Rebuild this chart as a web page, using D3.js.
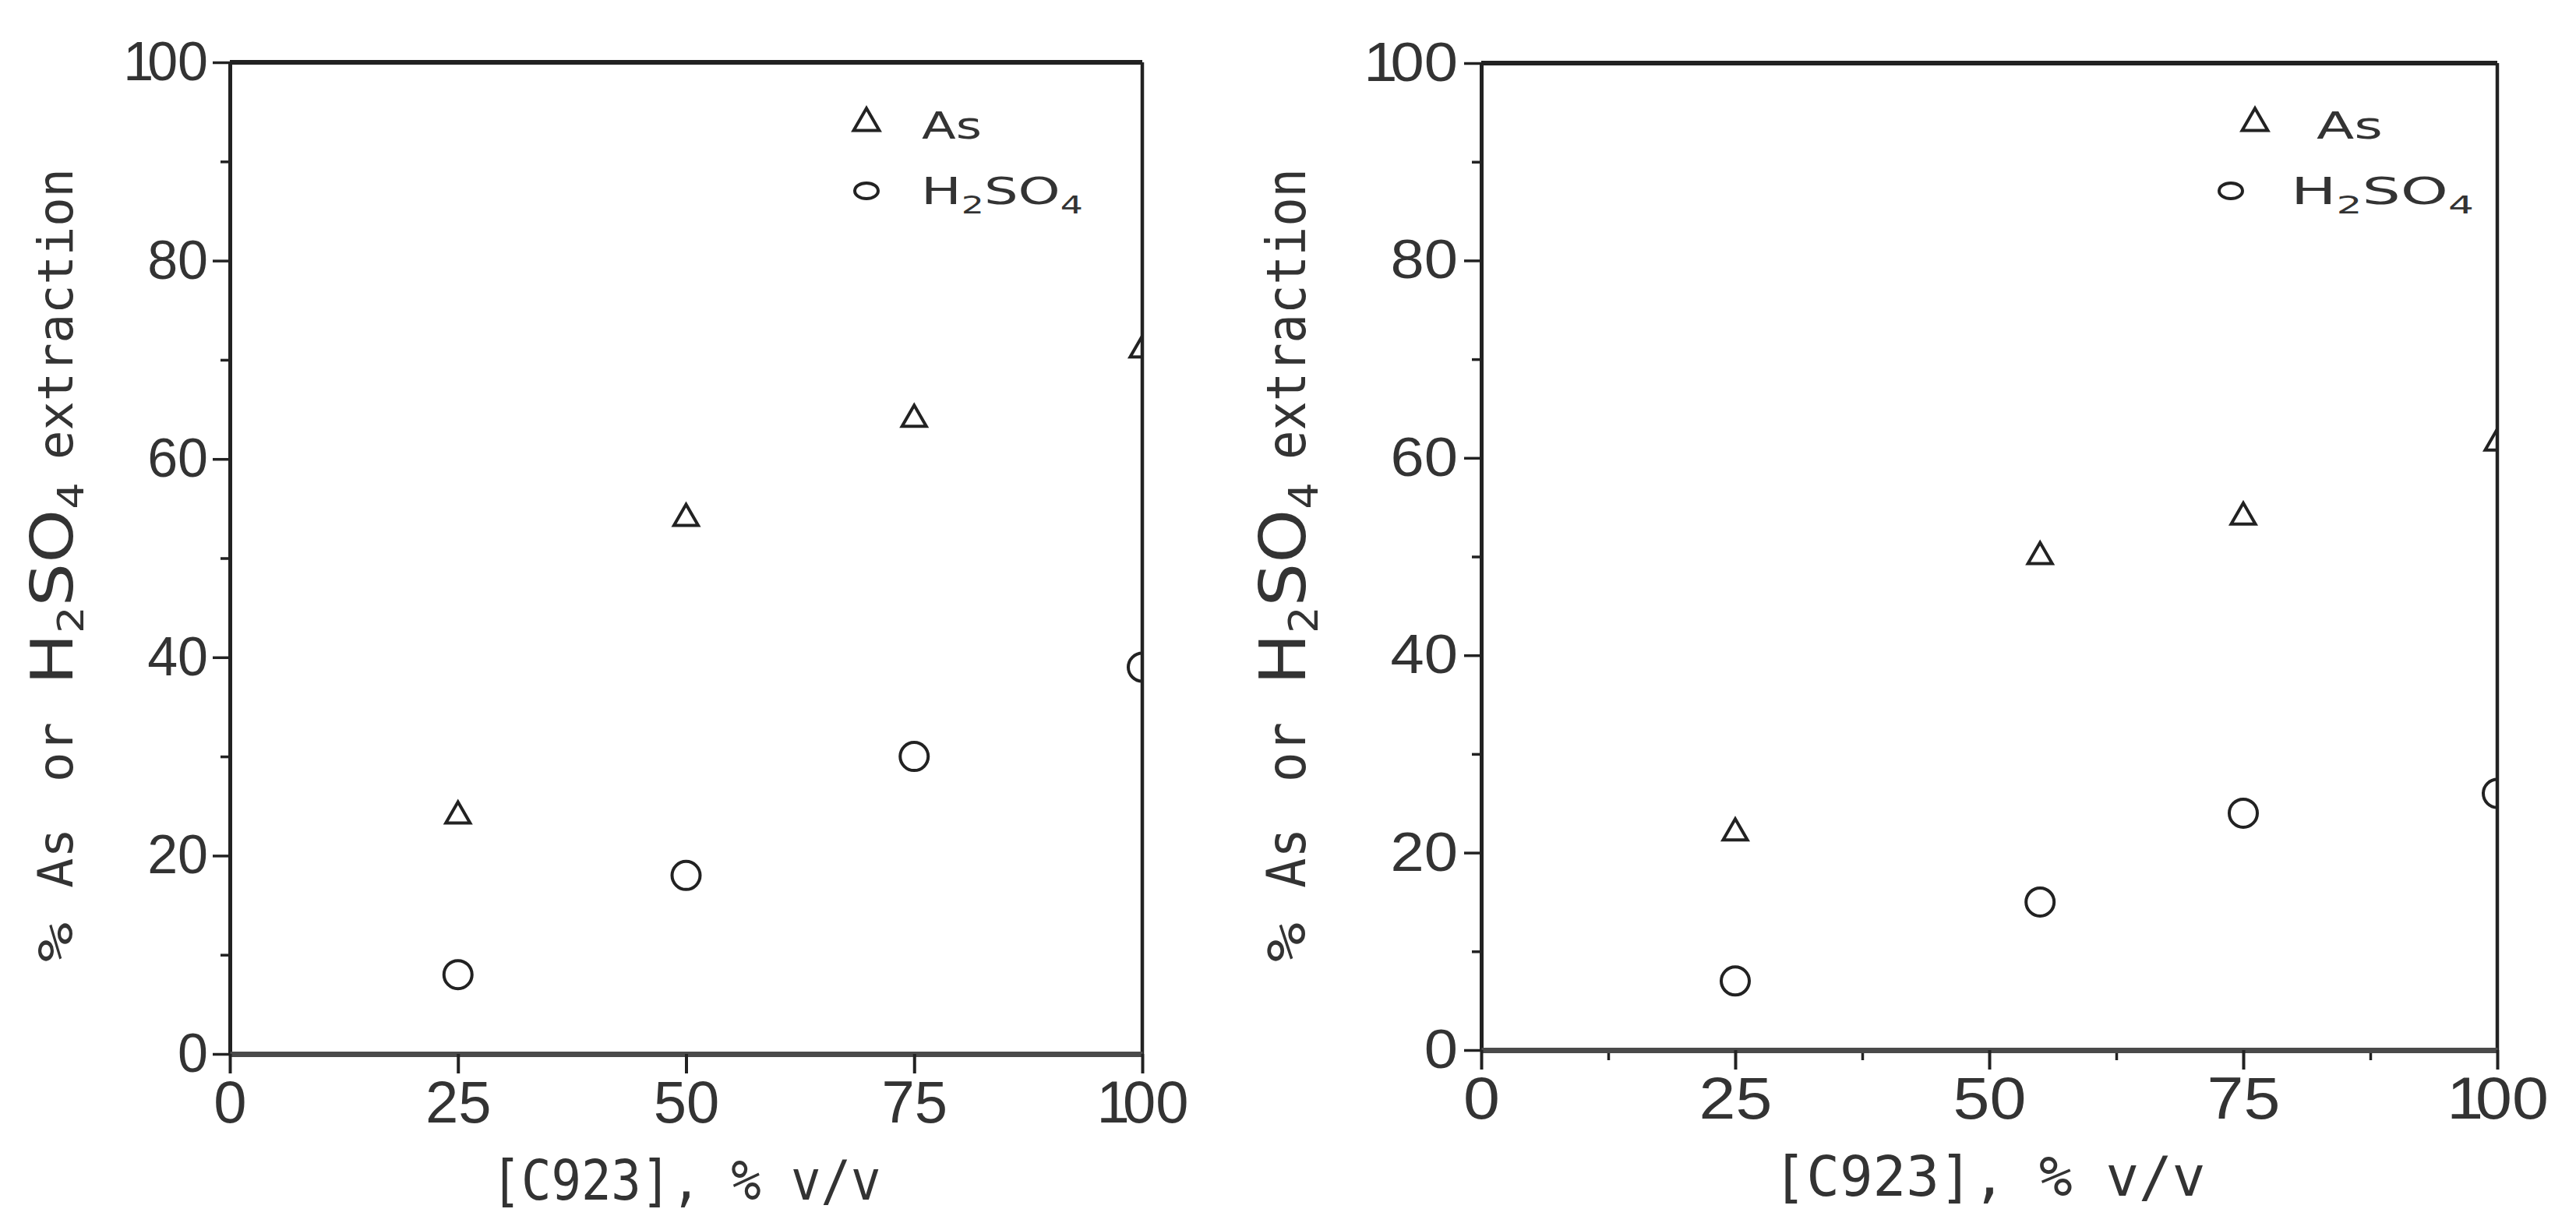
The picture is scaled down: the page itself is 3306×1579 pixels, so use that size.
<!DOCTYPE html>
<html>
<head>
<meta charset="utf-8">
<script src="https://cdn.jsdelivr.net/npm/d3@7"></script>
<style>
html, body { margin: 0; padding: 0; background: #fff; }
svg { display: block; }
.tick text { font-family: "Liberation Sans", Arial, sans-serif; fill: #333; }
</style>
</head>
<body>
<svg id="chart" width="3306" height="1579"></svg>
<script>
// tick values
const xTicks = [0, 25, 50, 75, 100];
const yTicks = [0, 20, 40, 60, 80, 100];
const yMinor = [10, 30, 50, 70, 90];
const xMinorRight = [12.5, 37.5, 62.5, 87.5];

// left panel
const concLeft = [25, 50, 75, 100];
const asLeft = [24, 54, 64, 71];
const acidLeft = [8, 18, 30, 39];

// right panel
const concRight = [25, 55, 75, 100];
const asRight = [22, 50, 54, 61.5];
const acidRight = [7, 15, 24, 26];

const seriesNames = ["As", "H2SO4"];
const xTitle = "[C923], % v/v";
const yTitleWords = ["%", "As", "or", "H2SO4", "extraction"];

const ink = "#222";
const textInk = "#333";
const svg = d3.select("#chart");

const panels = [
	{
		id: "L", left: 295, right: 1466, top: 80, bottom: 1353, sx: 1,
		conc: concLeft, as: asLeft, acid: acidLeft, xMinor: [],
		yPad: 6, titleX: 93, xTitleY: 1540,
		legMark: [[1112, 158], [1112, 245]], legText: [[1183, 178], [1182, 262]], legLen: [77, 208]
	},
	{
		id: "R", left: 1901, right: 3205, top: 81, bottom: 1348, sx: 1.11,
		conc: concRight, as: asRight, acid: acidRight, xMinor: xMinorRight,
		yPad: 8, titleX: 1675, xTitleY: 1535,
		legMark: [[2894, 158], [2863, 245]], legText: [[2973, 178], [2940, 262]], legLen: [85, 235]
	}
];

// writes H2SO4 style text, digits lowered and smaller
function formula(sel, str, subSize, drop) {
	let low = false;
	for (const ch of str) {
		const isSub = /[0-9]/.test(ch);
		const t = sel.append("tspan").text(ch);
		if (isSub && !low) { t.attr("dy", drop).attr("font-size", subSize); low = true; }
		else if (isSub) { t.attr("font-size", subSize); }
		else if (low) { t.attr("dy", -drop); low = false; }
	}
}

// the plot font has a narrow "1"; right panel text is wider
function fixLabels(sel, sx, oneDx) {
	sel.each(function() {
		const t = d3.select(this);
		const s = t.text();
		if (s.startsWith("1")) {
			t.text(null);
			t.append("tspan").text("1");
			t.append("tspan").attr("dx", oneDx).text(s.slice(1));
		}
		const x0 = +t.attr("x") || 0;
		t.attr("x", x0 / sx).attr("transform", `scale(${sx},1)`);
	});
}

function drawPanel(p) {
	const x = d3.scaleLinear().domain([0, 100]).range([p.left, p.right]);
	const y = d3.scaleLinear().domain([0, 100]).range([p.bottom, p.top]);
	const g = svg.append("g");

	g.append("clipPath").attr("id", "clip" + p.id)
		.append("rect")
		.attr("x", x(0)).attr("y", y(100))
		.attr("width", x(100) - x(0)).attr("height", y(0) - y(100));

	// minor ticks
	g.append("g")
		.attr("transform", `translate(${x(0)},0)`)
		.call(d3.axisLeft(y).tickValues(yMinor).tickSize(12).tickFormat("").tickSizeOuter(0))
		.call(s => s.select(".domain").remove())
		.selectAll("line").attr("stroke", ink).attr("stroke-width", 3.5);
	if (p.xMinor.length) {
		g.append("g")
			.attr("transform", `translate(0,${y(0)})`)
			.call(d3.axisBottom(x).tickValues(p.xMinor).tickSize(13).tickFormat("").tickSizeOuter(0))
			.call(s => s.select(".domain").remove())
			.selectAll("line").attr("stroke", ink).attr("stroke-width", 3.5);
	}

	// points
	const pts = g.append("g").attr("clip-path", `url(#clip${p.id})`);
	pts.selectAll("path.as")
		.data(p.conc.map((c, i) => ({c: c, v: p.as[i]})))
		.enter().append("path")
		.attr("class", "as")
		.attr("d", d3.symbol().type(d3.symbolTriangle).size(420))
		.attr("transform", d => `translate(${x(d.c)},${y(d.v)})`)
		.attr("fill", "none").attr("stroke", ink).attr("stroke-width", 4);
	pts.selectAll("circle.acid")
		.data(p.conc.map((c, i) => ({c: c, v: p.acid[i]})))
		.enter().append("circle")
		.attr("class", "acid")
		.attr("cx", d => x(d.c)).attr("cy", d => y(d.v)).attr("r", 18)
		.attr("fill", "none").attr("stroke", ink).attr("stroke-width", 4);

	// frame top + right
	g.append("line")
		.attr("x1", x(0)).attr("x2", x(100)).attr("y1", y(100)).attr("y2", y(100))
		.attr("stroke", ink).attr("stroke-width", 6);
	g.append("line")
		.attr("x1", x(100)).attr("x2", x(100)).attr("y1", y(100)).attr("y2", y(0))
		.attr("stroke", ink).attr("stroke-width", 4.5);

	// y axis
	const ya = g.append("g")
		.attr("transform", `translate(${x(0)},0)`)
		.call(d3.axisLeft(y).tickValues(yTicks).tickSize(22).tickPadding(p.yPad).tickSizeOuter(0));
	ya.select(".domain").attr("stroke", ink).attr("stroke-width", 5);
	ya.selectAll("line").attr("stroke", ink).attr("stroke-width", 3.5);
	ya.selectAll("text").attr("font-size", 70);
	fixLabels(ya.selectAll("text"), p.sx, -8);

	// x axis
	const xa = g.append("g")
		.attr("transform", `translate(0,${y(0)})`)
		.call(d3.axisBottom(x).tickValues(xTicks).tickSize(25).tickPadding(9).tickSizeOuter(0));
	xa.select(".domain").attr("stroke", "#4a4a4a").attr("stroke-width", 7);
	xa.selectAll("line").attr("stroke", ink).attr("stroke-width", 4);
	xa.selectAll("text").attr("font-size", 76);
	fixLabels(xa.selectAll("text"), p.sx, -9);

	// x title
	g.append("text")
		.attr("x", (x(0) + x(100)) / 2).attr("y", p.xTitleY)
		.attr("text-anchor", "middle")
		.attr("font-family", "DejaVu Sans Mono, monospace")
		.attr("font-size", 72).attr("fill", textInk)
		.attr("textLength", 500 * p.sx).attr("lengthAdjust", "spacingAndGlyphs")
		.text(xTitle);

	// y title, word by word along the axis
	const offs = [0, 95, 231, 356, 645];
	const lens = [51, 77, 77, 260, 374];
	const tg = g.append("g")
		.attr("transform", `translate(${p.titleX},1235) scale(${p.sx},1) rotate(-90)`);
	yTitleWords.forEach((w, i) => {
		const t = tg.append("text")
			.attr("x", offs[i]).attr("y", 0)
			.attr("fill", textInk);
		if (w === "H2SO4") {
			t.attr("font-family", "DejaVu Sans, sans-serif").attr("font-size", 74);
			formula(t, w, 46, 14);
		} else {
			t.attr("font-family", "DejaVu Sans Mono, monospace").attr("font-size", 62).text(w);
		}
		t.attr("textLength", lens[i]).attr("lengthAdjust", "spacingAndGlyphs");
	});

	// legend
	const lg = g.append("g");
	lg.append("path")
		.attr("d", d3.symbol().type(d3.symbolTriangle).size(470))
		.attr("transform", `translate(${p.legMark[0][0]},${p.legMark[0][1]})`)
		.attr("fill", "none").attr("stroke", ink).attr("stroke-width", 4);
	lg.append("ellipse")
		.attr("cx", p.legMark[1][0]).attr("cy", p.legMark[1][1])
		.attr("rx", 15).attr("ry", 10)
		.attr("fill", "none").attr("stroke", ink).attr("stroke-width", 4);
	seriesNames.forEach((name, i) => {
		const t = lg.append("text")
			.attr("x", p.legText[i][0]).attr("y", p.legText[i][1])
			.attr("font-family", "DejaVu Sans, sans-serif")
			.attr("font-size", 48).attr("fill", textInk);
		formula(t, name, 32, 12);
		t.attr("textLength", p.legLen[i]).attr("lengthAdjust", "spacingAndGlyphs");
	});
}

panels.forEach(drawPanel);
</script>
</body>
</html>
